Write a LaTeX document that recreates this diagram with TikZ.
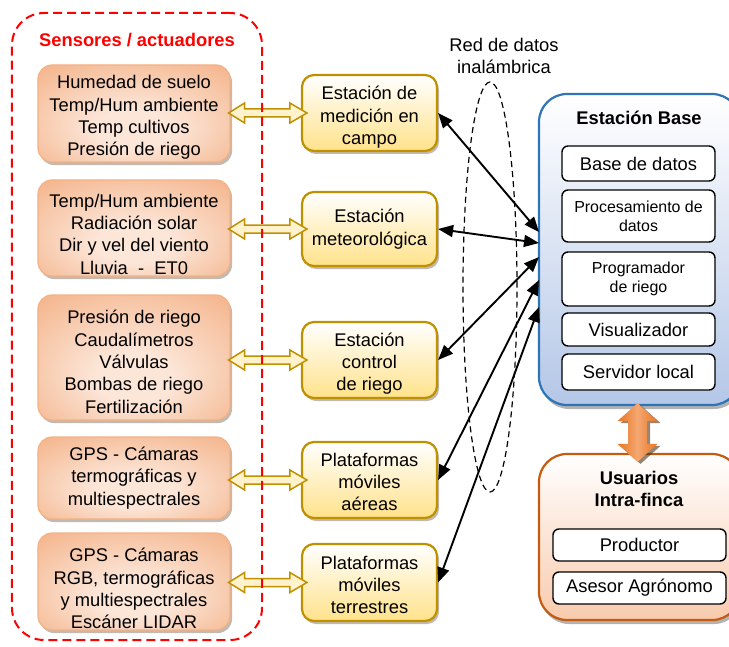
\documentclass[tikz,border=0pt]{standalone}
\usepackage{fontspec}
\setmainfont{Liberation Sans}
\usetikzlibrary{shadows,calc,arrows.meta,shapes.geometric}
\definecolor{sensI}{HTML}{FCE6D8}
\definecolor{sensO}{HTML}{F09C66}
\definecolor{sensB}{HTML}{F4B183}
\definecolor{stB}{HTML}{BF9000}
\definecolor{stF}{HTML}{FFE28A}
\definecolor{hollowF}{HTML}{FFF2CC}
\definecolor{baseB}{HTML}{2E75B6}
\definecolor{baseF}{HTML}{B4C7E7}
\definecolor{userB}{HTML}{C55A11}
\definecolor{userF}{HTML}{F8CBAD}
\definecolor{arrO}{HTML}{E8731F}
\definecolor{arrL}{HTML}{F4A872}
\pgfdeclareradialshading{softrad}{\pgfpoint{0bp}{-10bp}}{color(0bp)=(sensI); color(10bp)=(sensI); color(50bp)=(sensO)}
\newcommand\dn[1]{\rule{0pt}{#1bp}}
\newcommand\hollowlink[2]{%
  \path[hollow] let \p1=(#1.east), \p2=(#2.west) in
  (\x1-2bp,\y2) -- (\x1+14bp,\y2+10bp) -- (\x1+14bp,\y2+4bp) -- (\x2-11bp,\y2+4bp) --
  (\x2-11bp,\y2+10bp) -- (\x2+6bp,\y2) -- (\x2-11bp,\y2-10bp) -- (\x2-11bp,\y2-4bp) --
  (\x1+14bp,\y2-4bp) -- (\x1+14bp,\y2-10bp) -- cycle;}
\newcommand\fatlink[2]{%
  \path[fat] let \p1=(#1.south), \p2=(#2.north) in
  (\x1-2bp,\y1+3bp) -- (\x1+18bp,\y1-15bp) -- (\x1+7.5bp,\y1-15bp) -- (\x1+7.5bp,\y2+9bp) --
  (\x1+18bp,\y2+9bp) -- (\x1-2bp,\y2-9bp) -- (\x1-22bp,\y2+9bp) -- (\x1-11.5bp,\y2+9bp) --
  (\x1-11.5bp,\y1-15bp) -- (\x1-22bp,\y1-15bp) -- cycle;}
\begin{document}
\begin{tikzpicture}[x=1bp,y=-1bp,
  every node/.style={font=\fontsize{18.4}{22.4}\selectfont, inner sep=0pt, align=center},
  sensor/.style={rounded corners=14bp, draw=sensB, line width=1.2bp, shading=softrad,
    drop shadow={shadow xshift=2bp, shadow yshift=-3bp, fill=black!80!orange, opacity=.3},
    minimum width=192bp},
  station/.style={rounded corners=12bp, draw=stB, line width=2.2bp, top color=white, bottom color=stF,
    drop shadow={shadow xshift=2bp, shadow yshift=-3bp, fill=black!80!orange, opacity=.3},
    minimum width=135bp},
  bigbox/.style={rounded corners=28bp, line width=2.2bp, minimum width=201bp,
    drop shadow={shadow xshift=2bp, shadow yshift=-4bp, fill=black, opacity=.3}},
  innerbox/.style={rounded corners=6bp, draw=black, line width=1.4bp, fill=white},
  small/.style={font=\fontsize{16}{19}\selectfont},
  titletext/.style={font=\bfseries\fontsize{18.4}{22.4}\selectfont},
  link/.style={{Triangle[length=15bp,width=12bp]}-{Triangle[length=15bp,width=12bp]}, line width=1.9bp},
  hollow/.style={fill=hollowF, draw=stB, line width=1.5bp},
  fat/.style={left color=arrO, right color=arrO, middle color=arrL,
    drop shadow={shadow xshift=3bp, shadow yshift=-2bp, fill=black!60!brown, opacity=.6}},
  grp/.style={draw=red, dash pattern=on 9bp off 5bp, line width=2bp, rounded corners=32bp,
    minimum width=250bp, minimum height=627bp},
  net/.style={ellipse, draw=black, dash pattern=on 6bp off 4bp, line width=1.2bp,
    minimum width=54bp, minimum height=410bp}]
\clip (0,0) rectangle (729,647);

% sensors
\node[sensor, minimum height=97bp] (s1) at (134,113.5) {\dn{21.5}Humedad de suelo\\Temp/Hum ambiente\\Temp cultivos\\Presión de riego};
\node[sensor, minimum height=96bp] (s2) at (134,228) {\dn{25.5}Temp/Hum ambiente\\Radiación solar\\Dir y vel del viento\\Lluvia\ \ -\ \ ET0};
\node[sensor, minimum height=125bp] (s3) at (134,357.5) {\dn{22}Presión de riego\\Caudalímetros\\Válvulas\\Bombas de riego\\Fertilización};
\node[sensor, minimum height=82bp] (s4) at (134,478) {GPS - Cámaras\\termográficas y\\multiespectrales};
\node[sensor, minimum height=97bp] (s5) at (134,581.5) {\dn{28}GPS - Cámaras\\RGB, termográficas\\y multiespectrales\\Escáner LIDAR};

% stations
\node[station, minimum height=76bp] (st1) at (369.5,113) {\dn{22}Estación de\\medición en\\campo};
\node[station, minimum height=74bp] (st2) at (369.5,229) {Estación\\meteorológica};
\node[station, minimum height=76bp] (st3) at (369.5,360) {\dn{21}Estación\\control\\de riego};
\node[station, minimum height=76bp] (st4) at (369.5,480) {\dn{17.5}Plataformas\\móviles\\aéreas};
\node[station, minimum height=77bp] (st5) at (369.5,582.5) {\dn{18.5}Plataformas\\móviles\\terrestres};

% hollow links
\hollowlink{s1}{st1}
\hollowlink{s2}{st2}
\hollowlink{s3}{st3}
\hollowlink{s4}{st4}
\hollowlink{s5}{st5}

% group
\node[grp] (grp) at (137,326.5) {};
\node[titletext, text=red] (grpt) at (137,40) {Sensores / actuadores};

% network
\node[net] (net) at (490,287) {};
\node (netlabel) at (504,56) {Red de datos\\inalámbrica};

% base station
\node[bigbox, draw=baseB, top color=white, bottom color=baseF, minimum height=311bp] (base) at (639.5,249.5) {};
\node[titletext] (basetitle) at (639,118) {Estación Base};
\node[innerbox, minimum width=153bp, minimum height=35bp] (bd) at (638.5,163.5) {Base de datos};
\node[innerbox, small, minimum width=153bp, minimum height=52bp] (proc) at (638.5,216) {Procesamiento de\\datos};
\node[innerbox, small, minimum width=153bp, minimum height=54bp] (prog) at (638.5,279) {Programador\\de riego};
\node[innerbox, minimum width=153bp, minimum height=33bp] (vis) at (638.5,329.5) {Visualizador};
\node[innerbox, minimum width=153bp, minimum height=36bp] (serv) at (638.5,372) {Servidor local};

% users
\node[bigbox, draw=userB, top color=white, bottom color=userF, minimum height=166bp] (users) at (639.5,537) {};
\node[titletext] (usertitle) at (639,489) {Usuarios\\Intra-finca};
\node[innerbox, minimum width=173bp, minimum height=32bp] (prod) at (639.5,545) {Productor};
\node[innerbox, minimum width=173bp, minimum height=32bp] (ases) at (639.5,588) {Asesor Agrónomo};

\fatlink{base}{users}

% wireless links
\coordinate (b1) at (539,232);
\coordinate (b2) at (539,243);
\coordinate (b3) at (539,257);
\coordinate (b4) at (539,280);
\coordinate (b5) at (539,307);
\draw[link] (st1.east) -- (b1);
\draw[link] (st2.east) -- (b2);
\draw[link] (st3.east) -- (b3);
\draw[link] (st4.east) -- (b4);
\draw[link] (st5.east) -- (b5);
\end{tikzpicture}
\end{document}
